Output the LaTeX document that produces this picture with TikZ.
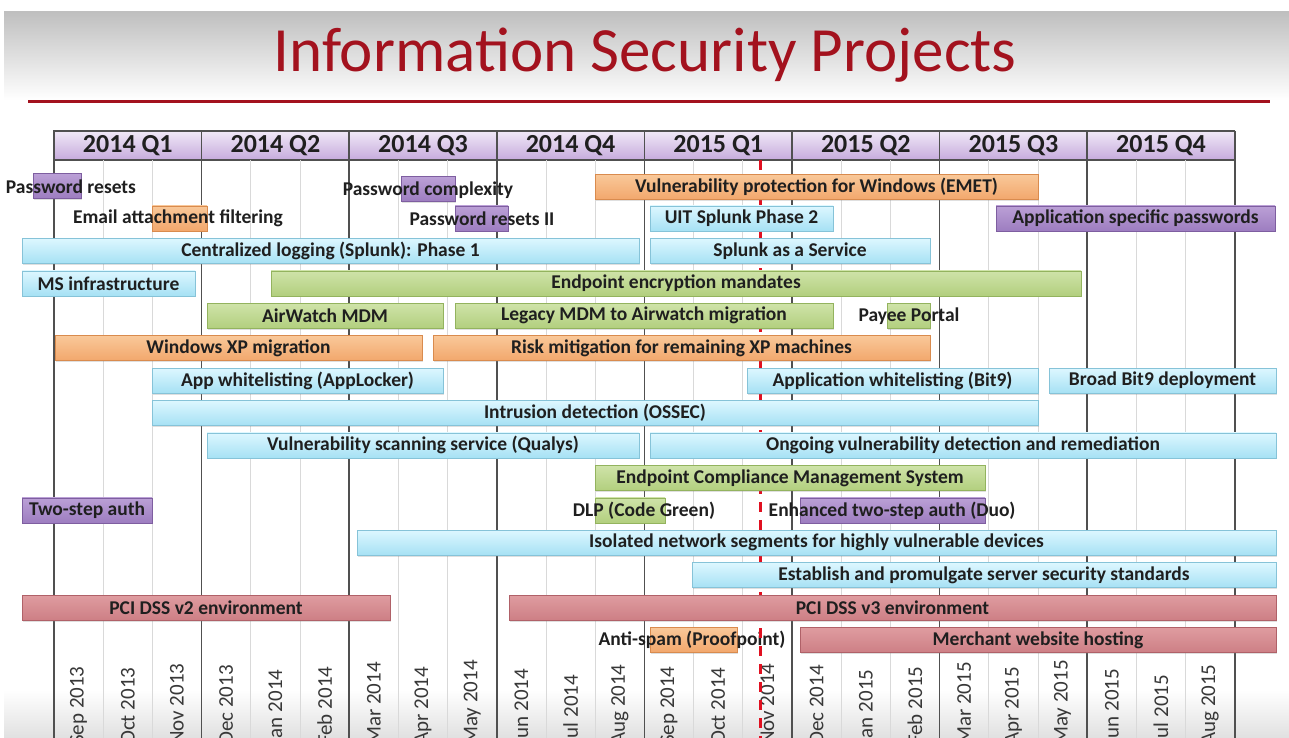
\documentclass[tikz,border=0pt]{standalone}
\usepackage{fontspec}
\setmainfont{Carlito}
\usetikzlibrary{shadows}

\definecolor{titlered}{HTML}{A3121E}
\definecolor{gridgray}{HTML}{505050}
\definecolor{monthgray}{HTML}{D9D9D9}
\definecolor{nowred}{HTML}{E01020}
\definecolor{hdrA}{HTML}{F0E8F7}
\definecolor{hdrB}{HTML}{C6ABDC}
\definecolor{blueA}{HTML}{DDF7FF}
\definecolor{blueB}{HTML}{A6E1F4}
\definecolor{blueD}{HTML}{86C3D8}
\definecolor{greenA}{HTML}{CFE3A9}
\definecolor{greenB}{HTML}{B2CF7E}
\definecolor{greenD}{HTML}{93B35E}
\definecolor{orangeA}{HTML}{F9C899}
\definecolor{orangeB}{HTML}{F2A76C}
\definecolor{orangeD}{HTML}{D98B4E}
\definecolor{purpleA}{HTML}{BBA0D6}
\definecolor{purpleB}{HTML}{9D7DC0}
\definecolor{purpleD}{HTML}{7E5EA0}
\definecolor{pinkA}{HTML}{DF9CA0}
\definecolor{pinkB}{HTML}{CD7F85}
\definecolor{pinkD}{HTML}{B06168}

\newcommand\barfont{\fontsize{19.5}{20}\selectfont\bfseries}

\tikzset{
  bar/.style={rectangle, draw, line width=0.6pt, minimum height=25, inner xsep=1pt, inner ysep=0pt,
    font=\barfont, text=black!88, drop shadow={shadow xshift=1pt, shadow yshift=-1.5pt, opacity=0.25}},
  blue bar/.style={bar, draw=blueD, top color=blueA, bottom color=blueB},
  green bar/.style={bar, draw=greenD, top color=greenA, bottom color=greenB},
  orange bar/.style={bar, draw=orangeD, top color=orangeA, bottom color=orangeB},
  purple bar/.style={bar, draw=purpleD, top color=purpleA, bottom color=purpleB},
  pink bar/.style={bar, draw=pinkD, top color=pinkA, bottom color=pinkB},
  lbl/.style={font=\barfont, text=black!88, inner sep=0pt},
  quarter/.style={rectangle, draw=gridgray, line width=1.2pt, minimum width=147.6, minimum height=29,
    inner sep=0pt, top color=hdrA, bottom color=hdrB, font=\fontsize{26}{27}\selectfont\bfseries, text=black!88},
  month/.style={rotate=90, anchor=west, inner sep=0pt, font=\fontsize{21}{22}\selectfont, text=black!78},
  nowline/.style={nowred, line width=3pt, dash pattern=on 10pt off 8pt}
}

\begin{document}
\begin{tikzpicture}[x=1pt, y=-1pt]
	\useasboundingbox (0,0) rectangle (1289,738);
	\clip (0,0) rectangle (1289,738);
	
	% slide background
	\fill[white] (0,0) rectangle (1289,738);
	\shade[top color=black!25, bottom color=white] (4,12) rectangle (1289,100);
	\shade[top color=white, bottom color=black!12] (4,690) rectangle (1289,738);
	
	\node(title) [anchor=base, font=\fontsize{63}{64}\selectfont, text=titlered] at (645,72) {Information Security Projects};
	\draw[titlered, line width=3pt] (28,102) -- (1270,102);
	
	% quarters
	\node(q1) [quarter] at (127.8,145.5) {2014 Q1};
	\node(q2) [quarter] at (275.4,145.5) {2014 Q2};
	\node(q3) [quarter] at (423.0,145.5) {2014 Q3};
	\node(q4) [quarter] at (570.6,145.5) {2014 Q4};
	\node(q5) [quarter] at (718.2,145.5) {2015 Q1};
	\node(q6) [quarter] at (865.8,145.5) {2015 Q2};
	\node(q7) [quarter] at (1013.4,145.5) {2015 Q3};
	\node(q8) [quarter] at (1161.0,145.5) {2015 Q4};
	
	\foreach \j in {1,2,4,5,7,8,10,11,13,14,16,17,19,20,22,23}
		\draw[monthgray, line width=1pt] ({54+49.2*\j},160) -- ({54+49.2*\j},738);
	\foreach \k in {0,...,8}
		\draw[gridgray, line width=1.5pt] ({54+147.6*\k},131) -- ({54+147.6*\k},738);
	
	\foreach \m [count=\i from 0] in {Sep 2013,Oct 2013,Nov 2013,Dec 2013,Jan 2014,Feb 2014,Mar 2014,Apr 2014,May 2014,Jun 2014,Jul 2014,Aug 2014,Sep 2014,Oct 2014,Nov 2014,Dec 2014,Jan 2015,Feb 2015,Mar 2015,Apr 2015,May 2015,Jun 2015,Jul 2015,Aug 2015}
		\node(m\i) [month] at ({78.6+49.2*\i},745) {\m};
	
	% short tasks with labels running past them
	\node(prbox) [purple bar, minimum width=48] at (57,186) {};
	\node(pcbox) [purple bar, minimum width=54] at (428,189) {};
	\node(eafbox) [orange bar, minimum width=55] at (179.5,218.4) {};
	\node(pr2box) [purple bar, minimum width=53] at (481.5,218.4) {};
	\node(payeebox) [green bar, minimum width=43] at (908.5,315.7) {};
	\node(dlpbox) [green bar, minimum width=70] at (630,510.3) {};
	\node(duobox) [purple bar, minimum width=185] at (892.5,510.3) {};
	\node(asbox) [orange bar, minimum width=87] at (693.5,640) {};
	
	\node(pr) [lbl] at (71,187) {Password resets};
	\node(pc) [lbl] at (428,190) {Password complexity};
	\node(eaf) [lbl] at (178,218.4) {Email attachment filtering};
	\node(pr2) [lbl] at (482,218.4) {Password resets II};
	\node(payee) [lbl] at (909,315.7) {Payee Portal};
	\node(dlp) [lbl] at (644,510.3) {DLP (Code Green)};
	\node(duo) [lbl] at (892,510.3) {Enhanced two-step auth (Duo)};
	\node(as) [lbl] at (692,640) {Anti-spam (Proofpoint)};
	
	% today
	\coordinate (now top) at (760,160);
	\coordinate (now bot) at (760,738);
	\draw[nowline] (now top) -- (now bot);
	
	% projects
	\node(emet) [orange bar, minimum width=443] at (816.5,187) {Vulnerability protection for Windows (EMET)};
	\node(uit) [blue bar, minimum width=183] at (741.5,218.4) {UIT Splunk Phase 2};
	\node(asp) [purple bar, minimum width=279] at (1135.5,218.4) {Application specific passwords};
	\node(cl1) [blue bar, minimum width=617] at (330.5,250.9) {Centralized logging (Splunk): Phase 1};
	\node(saas) [blue bar, minimum width=280] at (790,250.9) {Splunk as a Service};
	\node(msi) [blue bar, minimum width=173] at (108.5,283.3) {MS infrastructure};
	\node(eem) [green bar, minimum width=810] at (676,283.3) {Endpoint encryption mandates};
	\node(awm) [green bar, minimum width=236] at (325,315.7) {AirWatch MDM};
	\node(lmdm) [green bar, minimum width=378] at (644,315.7) {Legacy MDM to Airwatch migration};
	\node(wxp) [orange bar, minimum width=367] at (238.5,348.2) {Windows XP migration};
	\node(rmxp) [orange bar, minimum width=497] at (681.5,348.2) {Risk mitigation for remaining XP machines};
	\node(appl) [blue bar, minimum width=291] at (297.5,380.6) {App whitelisting (AppLocker)};
	\node(bit9) [blue bar, minimum width=291] at (892.5,380.6) {Application whitelisting (Bit9)};
	\node(bb9) [blue bar, minimum width=227] at (1162.5,380.6) {Broad Bit9 deployment};
	\node(ossec) [blue bar, minimum width=886] at (595,413) {Intrusion detection (OSSEC)};
	\node(qualys) [blue bar, minimum width=432] at (423,445.4) {Vulnerability scanning service (Qualys)};
	\node(ongoing) [blue bar, minimum width=626] at (963,445.4) {Ongoing vulnerability detection and remediation};
	\node(ecms) [green bar, minimum width=390] at (790,477.9) {Endpoint Compliance Management System};
	\node(tsa) [purple bar, minimum width=130] at (87,510.3) {Two-step auth};
	\node(iso) [blue bar, minimum width=919] at (816.5,542.7) {Isolated network segments for highly vulnerable devices};
	\node(est) [blue bar, minimum width=584] at (984,575.2) {Establish and promulgate server security standards};
	\node(pci2) [pink bar, minimum width=368] at (206,607.6) {PCI DSS v2 environment};
	\node(pci3) [pink bar, minimum width=767] at (892.5,607.6) {PCI DSS v3 environment};
	\node(mwh) [pink bar, minimum width=476] at (1038,640) {Merchant website hosting};
	
\end{tikzpicture}
\end{document}
